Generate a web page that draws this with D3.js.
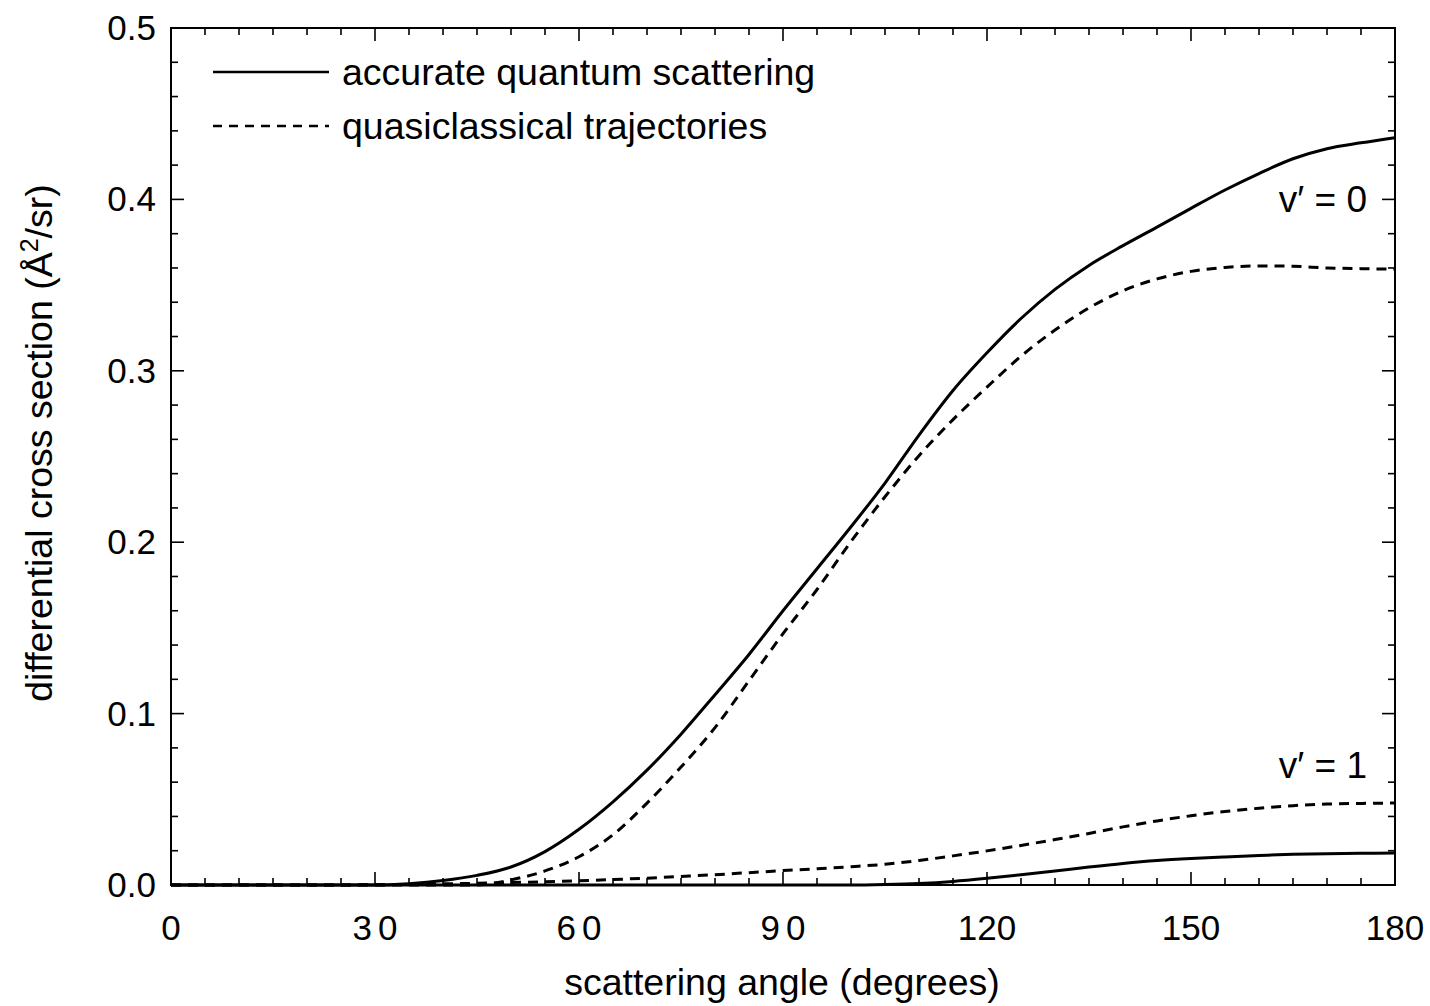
<!DOCTYPE html>
<html>
<head>
<meta charset="utf-8">
<script src="https://cdn.jsdelivr.net/npm/d3@7"></script>
<style>
  html, body { margin: 0; padding: 0; background: #fff; }
  svg { display: block; }
  text { font-family: "Liberation Sans", Arial, Helvetica, sans-serif; fill: #000; }
</style>
</head>
<body>
<svg id="chart" width="1430" height="1006"></svg>
<script>
// ---- data ----
const angles = [0,5,10,15,20,25,30,35,40,45,50,55,60,65,70,75,80,85,90,95,100,105,110,115,120,125,130,135,140,145,150,155,160,165,170,175,180];
const quantumV0 = [0,0,0,0,0,0,0,0.0008,0.0026,0.0056,0.0105,0.0195,0.0325,0.0485,0.067,0.088,0.111,0.1345,0.160,0.1845,0.209,0.2345,0.2625,0.2885,0.3105,0.3305,0.3475,0.3615,0.373,0.3838,0.3948,0.4055,0.4151,0.4237,0.4296,0.433,0.436];
const classicalV0 = [0,0,0,0,0,0,0,0,0,0,0.003,0.0082,0.0165,0.0293,0.0478,0.0688,0.0918,0.1192,0.1466,0.1724,0.2004,0.2265,0.2505,0.2715,0.2905,0.3085,0.3238,0.3367,0.3467,0.3536,0.358,0.3603,0.3612,0.361,0.360,0.3596,0.3593];
const quantumV1 = [0,0,0,0,0,0,0,0,0,0,0,0,0,0,0,0,0,0,0,0,0,0.0003,0.0009,0.0021,0.0039,0.006,0.0082,0.0105,0.0126,0.0143,0.0155,0.0164,0.0172,0.0179,0.0183,0.0185,0.0186];
const classicalV1 = [0,0,0,0,0,0,0.0002,0.0004,0.0007,0.001,0.0014,0.0019,0.0025,0.0032,0.004,0.005,0.006,0.0072,0.0084,0.0095,0.0107,0.0121,0.0143,0.017,0.0199,0.0231,0.0265,0.0301,0.0339,0.0374,0.0404,0.0429,0.0448,0.0463,0.0472,0.0476,0.0478];
const xTicks = [0,30,60,90,120,150,180];
const yTicks = [0.0,0.1,0.2,0.3,0.4,0.5];
const legendLabels = ["accurate quantum scattering","quasiclassical trajectories"];
const curveLabels = ["v\u2032 = 0","v\u2032 = 1"];
const curveLabelValues = [0.4, 0.07];

// ---- layout ----
const L = 171, R = 1395, T = 28, B = 885;
const svg = d3.select("#chart");
const x = d3.scaleLinear().domain([0,180]).range([L,R]);
const y = d3.scaleLinear().domain([0,0.5]).range([B,T]);

// ticks (inward), all four sides
const xMinor = d3.range(0,181,5).filter(v => v % 30 !== 0);
const yMinor = d3.range(0,0.5001,0.02).filter(v => Math.abs(v*10 - Math.round(v*10)) > 1e-6);
const tickG = svg.append("g").attr("stroke","#000").attr("stroke-width",1.6);
function addTicks(vals, len, isX) {
  vals.forEach(v => {
    if (isX) {
      tickG.append("line").attr("x1",x(v)).attr("x2",x(v)).attr("y1",B).attr("y2",B-len);
      tickG.append("line").attr("x1",x(v)).attr("x2",x(v)).attr("y1",T).attr("y2",T+len);
    } else {
      tickG.append("line").attr("y1",y(v)).attr("y2",y(v)).attr("x1",L).attr("x2",L+len);
      tickG.append("line").attr("y1",y(v)).attr("y2",y(v)).attr("x1",R).attr("x2",R-len);
    }
  });
}
addTicks(xTicks, 13, true);
addTicks(xMinor, 7, true);
addTicks(yTicks, 13, false);
addTicks(yMinor, 7, false);

// frame
svg.append("rect").attr("x",L).attr("y",T).attr("width",R-L).attr("height",B-T)
  .attr("fill","none").attr("stroke","#000").attr("stroke-width",2);

// tick labels
svg.append("g").selectAll("text").data(xTicks).join("text")
  .attr("x", d => x(d) + ((d >= 10 && d < 100) ? 3 : 0)).attr("y", 940)
  .attr("text-anchor","middle").attr("font-size",35)
  .attr("letter-spacing", d => (d >= 10 && d < 100) ? "6px" : "0px")
  .text(d => d);
svg.append("g").selectAll("text").data(yTicks).join("text")
  .attr("x", 156).attr("y", d => y(d) + 12)
  .attr("text-anchor","end").attr("font-size",35)
  .text(d => d.toFixed(1));

// axis titles
svg.append("text").attr("x", 782).attr("y", 995).attr("text-anchor","middle")
  .attr("font-size",37.5).text("scattering angle (degrees)");
const yt = svg.append("text").attr("transform","translate(52,443) rotate(-90)")
  .attr("text-anchor","middle").attr("font-size",37.5);
yt.append("tspan").text("differential cross section (\u00C5");
yt.append("tspan").attr("font-size",25).attr("dy",-14).text("2");
yt.append("tspan").attr("dy",14).text("/sr)");

// curves
const line = d3.line().x((d,i) => x(angles[i])).y(d => y(d)).curve(d3.curveMonotoneX);
const series = [
  {vals: quantumV0, dash: null},
  {vals: classicalV0, dash: "10,7"},
  {vals: quantumV1, dash: null},
  {vals: classicalV1, dash: "10,7"}
];
svg.append("g").selectAll("path").data(series).join("path")
  .attr("d", d => line(d.vals))
  .attr("fill","none").attr("stroke","#000").attr("stroke-width",3)
  .attr("stroke-dasharray", d => d.dash);

// legend
const legendY = [72, 126];
legendLabels.forEach((lab,i) => {
  svg.append("line").attr("x1",213).attr("x2",329).attr("y1",legendY[i]).attr("y2",legendY[i])
    .attr("stroke","#000").attr("stroke-width",2.5)
    .attr("stroke-dasharray", i === 1 ? "9,7" : null);
  svg.append("text").attr("x",342).attr("y",legendY[i]+13).attr("font-size",37.5).text(lab);
});

// curve labels
curveLabels.forEach((lab,i) => {
  svg.append("text").attr("x",1367).attr("y",y(curveLabelValues[i])+13)
    .attr("text-anchor","end").attr("font-size",37).text(lab);
});
</script>
</body>
</html>
